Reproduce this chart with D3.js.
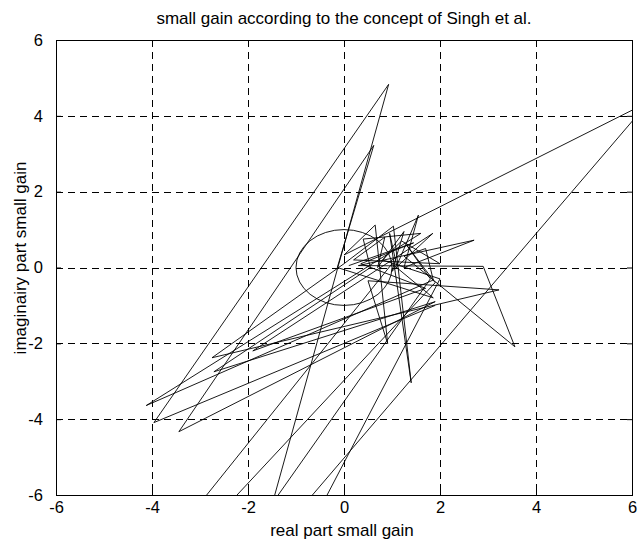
<!DOCTYPE html>
<html>
<head>
<meta charset="utf-8">
<script src="https://cdn.jsdelivr.net/npm/d3@7"></script>
<style>
  body { margin: 0; background: #fff; }
  text { font-family: "Liberation Sans", Arial, sans-serif; fill: #000; }
</style>
</head>
<body>
<script>
// axis ticks
var xTicks = [-6, -4, -2, 0, 2, 4, 6];
var yTicks = [-6, -4, -2, 0, 2, 4, 6];

// small gain trajectory, real and imaginary part
var gainRe = [1.9, -3.96, 0.93, -1.82, 6.35, 0.0, 0.65, 0.91, 0.5, 3.23,
  -2.75, 0.0, 1.03, 1.40, 0.95, 1.1, 1.55, 1.25, 2.71, 0.3,
  2.9, 3.56, 1.25, 1.7, 1.86, -4.12, 1.6, 0.4, 0.55, -2.71,
  1.9, -3.44, 0.62, -0.14, 1.86, 1.0, -4.76, -4.44, 1.9, 1.3,
  1.8, -3.04, -1.59, 2.0, 0.8, 1.2, 2.0, 0.2, 0.85, 0.7,
  1.25, 1.0, 1.85, -1.9, 1.7, 0.35, 1.45, 0.1];
var gainIm = [-1.0, -4.09, 4.83, -7.72, 4.37, 0.33, 1.12, -2.01, -0.35, -0.59,
  -2.38, 0.1, 1.09, -3.04, 0.9, 0.05, 1.38, 0.0, 0.72, 0.05,
  0.03, -2.09, 0.3, 0.5, -0.33, -3.64, 0.9, 0.75, 0.0, -2.75,
  -0.9, -4.33, 3.22, 0.0, -0.8, 0.1, -9, -9, -0.4, 0.6,
  -0.3, -9, -9, -0.3, 0.2, 0.7, 0.1, 0.2, 0.8, 0.0,
  0.95, -0.1, 0.9, -2.2, -0.55, 0.1, 0.65, 0.05];

var unitRadius = 1;

var W = 639, H = 546;
var pLeft = 56, pRight = 632, pTop = 40, pBottom = 495;

var svg = d3.select('body').append('svg')
    .attr('width', W)
    .attr('height', H);

var x = d3.scaleLinear().domain([-6, 6]).range([pLeft, pRight]);
var y = d3.scaleLinear().domain([-6, 6]).range([pBottom, pTop]);

svg.append('clipPath').attr('id', 'plotclip')
  .append('rect')
    .attr('x', pLeft).attr('y', pTop)
    .attr('width', pRight - pLeft).attr('height', pBottom - pTop);

// grid
var grid = svg.append('g').attr('stroke', '#000').attr('stroke-width', 1)
    .attr('stroke-dasharray', '7,5');
grid.selectAll('.gx').data(xTicks.slice(1, -1)).enter().append('line')
    .attr('x1', function(d){ return Math.round(x(d)) + 0.5; })
    .attr('x2', function(d){ return Math.round(x(d)) + 0.5; })
    .attr('y1', pTop).attr('y2', pBottom);
grid.selectAll('.gy').data(yTicks.slice(1, -1)).enter().append('line')
    .attr('y1', function(d){ return Math.round(y(d)) + 0.5; })
    .attr('y2', function(d){ return Math.round(y(d)) + 0.5; })
    .attr('x1', pLeft).attr('x2', pRight);

var fmt = function(d){ return String(d); };

// axes with inward ticks
var xAxis = d3.axisBottom(x).tickValues(xTicks).tickSize(-5).tickPadding(6).tickFormat(fmt);
var yAxis = d3.axisLeft(y).tickValues(yTicks).tickSize(-5).tickPadding(13).tickFormat(fmt);

svg.append('g').attr('transform', 'translate(0,' + pBottom + ')').call(xAxis);
svg.append('g').attr('transform', 'translate(' + pLeft + ',0)').call(yAxis);
svg.append('g').attr('transform', 'translate(0,' + pTop + ')')
    .call(d3.axisTop(x).tickValues(xTicks).tickSize(-5).tickFormat(''));
svg.append('g').attr('transform', 'translate(' + pRight + ',0)')
    .call(d3.axisRight(y).tickValues(yTicks).tickSize(-5).tickFormat(''));

svg.selectAll('.domain').remove();
svg.selectAll('.tick line').attr('stroke', '#000');
svg.selectAll('.tick text')
    .style('font-family', '"Liberation Sans", Arial, sans-serif')
    .style('font-size', '16.5px')
    .attr('fill', '#000');

svg.append('rect')
    .attr('x', pLeft + 0.5).attr('y', pTop + 0.5)
    .attr('width', pRight - pLeft).attr('height', pBottom - pTop)
    .attr('fill', 'none').attr('stroke', '#000').attr('stroke-width', 1);

var plot = svg.append('g').attr('clip-path', 'url(#plotclip)');

// unit circle
plot.append('ellipse')
    .attr('cx', x(0)).attr('cy', y(0))
    .attr('rx', x(unitRadius) - x(0))
    .attr('ry', y(0) - y(unitRadius))
    .attr('fill', 'none').attr('stroke', '#000').attr('stroke-width', 0.9);

var pts = gainRe.map(function(d, i){ return [d, gainIm[i]]; });
var line = d3.line()
    .x(function(d){ return x(d[0]); })
    .y(function(d){ return y(d[1]); });

plot.append('path')
    .attr('d', line(pts))
    .attr('fill', 'none')
    .attr('stroke', '#000')
    .attr('stroke-width', 0.9)
    .attr('stroke-linejoin', 'miter');

// labels
svg.append('text')
    .attr('x', (pLeft + pRight) / 2).attr('y', 24)
    .attr('text-anchor', 'middle')
    .style('font-size', '17px')
    .text('small gain according to the concept of Singh et al.');

svg.append('text')
    .attr('x', (pLeft + pRight) / 2 - 2).attr('y', 536)
    .attr('text-anchor', 'middle')
    .style('font-size', '17px')
    .text('real part small gain');

svg.append('text')
    .attr('transform', 'translate(26,258) rotate(-90)')
    .attr('text-anchor', 'middle')
    .style('font-size', '17px')
    .text('imaginairy part small gain');
</script>
</body>
</html>
